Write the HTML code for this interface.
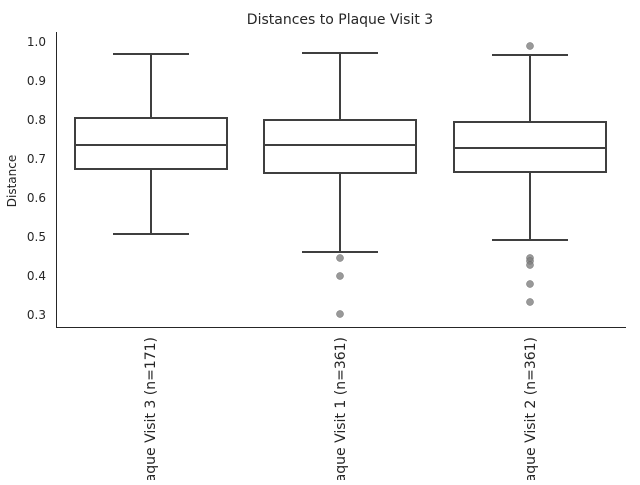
<!DOCTYPE html>
<html><head><style>body{margin:0;background:#fff}</style></head><body>
<svg width="640" height="480" xmlns="http://www.w3.org/2000/svg" font-family="DejaVu Sans, sans-serif">
<rect width="640" height="480" fill="#fff"/>
<text x="340" y="24" font-size="14" text-anchor="middle" fill="#262626">Distances to Plaque Visit 3</text>
<g font-size="12" fill="#262626" text-anchor="end">
<text x="46" y="46">1.0</text><text x="46" y="85">0.9</text><text x="46" y="124">0.8</text><text x="46" y="163">0.7</text><text x="46" y="202">0.6</text><text x="46" y="241">0.5</text><text x="46" y="280">0.4</text><text x="46" y="319">0.3</text>
</g>
<text transform="translate(16,181) rotate(-90)" font-size="12" text-anchor="middle" fill="#262626">Distance</text>
<path d="M56.5 32V327.5H626" stroke="#262626" stroke-width="1" fill="none"/>
<g stroke="#3f3f3f" stroke-width="2" fill="none">
<rect x="75" y="118" width="152" height="51"/><path d="M75 145H227M151 118V54M151 169V234M113 54H189M113 234H189"/>
<rect x="264" y="120" width="152" height="53"/><path d="M264 145H416M340 120V53M340 173V252M302 53H378M302 252H378"/>
<rect x="454" y="122" width="152" height="50"/><path d="M454 148H606M530 122V55M530 172V240M492 55H568M492 240H568"/>
</g>
<g fill="#7f7f7f" fill-opacity="0.8" stroke="#6a6a6a" stroke-width="0.5">
<circle cx="340" cy="258" r="3.5"/><circle cx="340" cy="276" r="3.5"/><circle cx="340" cy="314" r="3.5"/>
<circle cx="530" cy="46" r="3.5"/><circle cx="530" cy="258" r="3.5"/><circle cx="530" cy="261" r="3.5"/><circle cx="530" cy="265" r="3.5"/><circle cx="530" cy="284" r="3.5"/><circle cx="530" cy="302" r="3.5"/>
</g>
<g font-size="14" fill="#262626" text-anchor="end">
<text transform="translate(155,337) rotate(-90)">Plaque Visit 3 (n=171)</text>
<text transform="translate(345,337) rotate(-90)">Plaque Visit 1 (n=361)</text>
<text transform="translate(535,337) rotate(-90)">Plaque Visit 2 (n=361)</text>
</g>
</svg>
</body></html>
